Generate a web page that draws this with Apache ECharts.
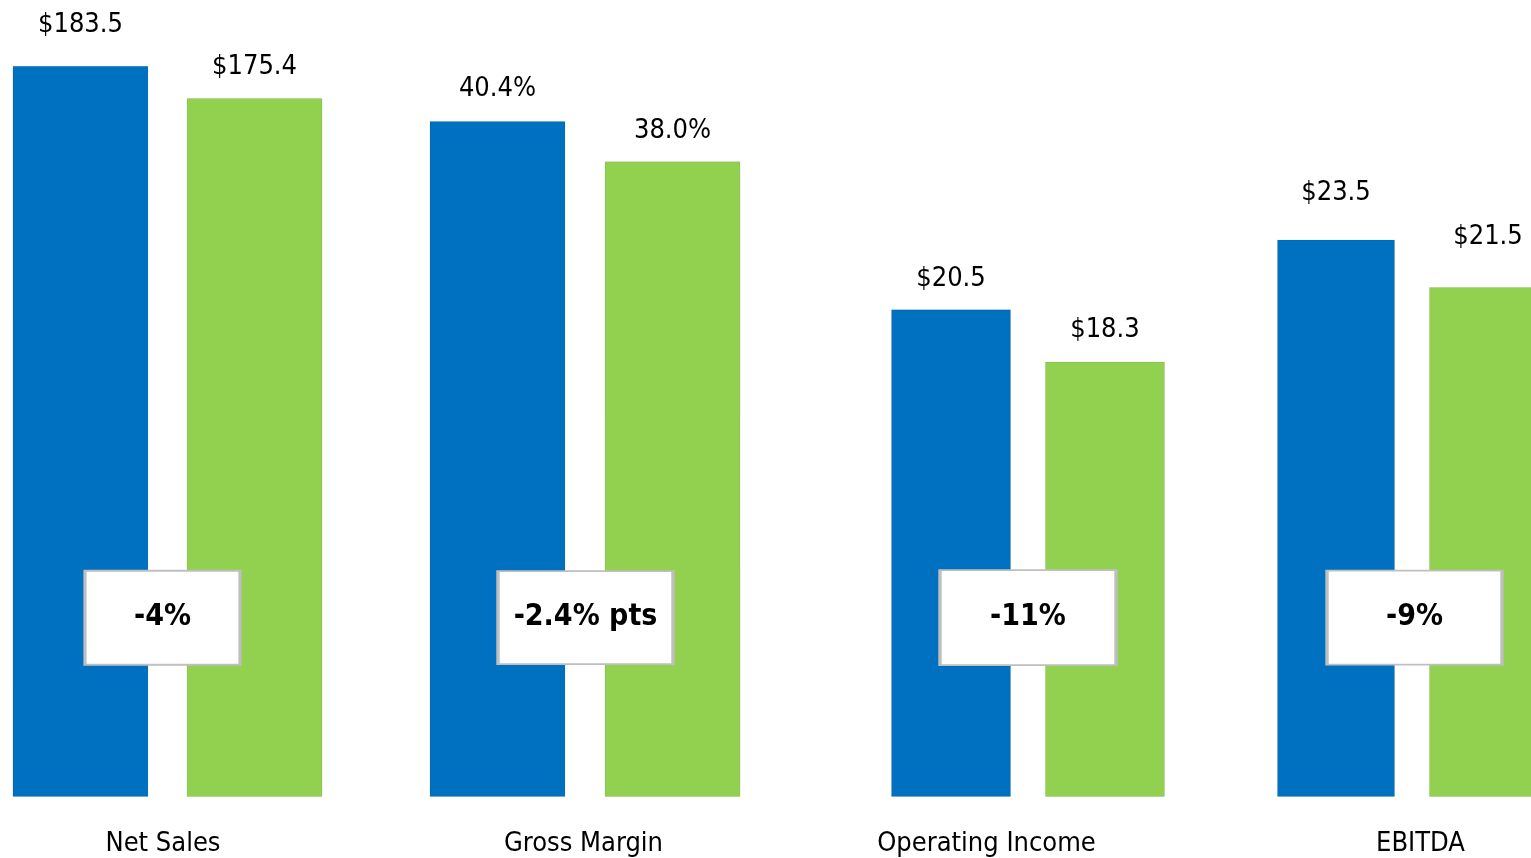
<!DOCTYPE html>
<html>
<head>
<meta charset="utf-8">
<script src="https://cdn.jsdelivr.net/npm/echarts@6/dist/echarts.min.js"></script>
<style>
html,body{margin:0;padding:0;background:#fff;}
#main{width:1531px;height:858px;}
</style>
</head>
<body>
<div id="main"></div>
<script>
// ---- data ----
const categories = ['Net Sales', 'Gross Margin', 'Operating Income', 'EBITDA'];
const priorValues = [183.5, 40.4, 20.5, 23.5];
const currentValues = [175.4, 38.0, 18.3, 21.5];
const valuePrefix = ['$', '', '$', '$'];
const valueSuffix = ['', '%', '', ''];
const changeLabels = ['-4%', '-2.4% pts', '-11%', '-9%'];

// ---- layout / style ----
const FONT = "'Liberation Sans Narrow', 'DejaVu Sans Condensed', 'Arial Narrow', sans-serif";
const BLUE = '#0070C0';
const GREEN = '#92D050';
const GW = 400;
const layout = [
  {center: 167.5, max: 200,   barWidth: 136, barGap: '28%',   lift: [27, 18], box: [155, 94], boxShift: -5,  catShift: -4.5},
  {center: 585,   max: 47.63, barWidth: 136, barGap: '28.7%', lift: [18, 17], box: [175, 93], boxShift: 0.5, catShift: -1.5},
  {center: 1028,  max: 33.5,  barWidth: 120, barGap: '28.3%', lift: [17, 18], box: [176, 95], boxShift: 0,   catShift: -41.5},
  {center: 1412,  max: 33.6,  barWidth: 118, barGap: '28.8%', lift: [33, 37], box: [175, 94], boxShift: 2.5, catShift: 8.5}
];

const grids = [], xAxes = [], yAxes = [], series = [];
categories.forEach((cat, i) => {
  const L = layout[i];
  grids.push({left: L.center - GW / 2, width: GW, top: 0, bottom: 61, containLabel: false, outerBoundsMode: 'none'});
  const pad = L.catShift < 0 ? [0, -2 * L.catShift, 0, 0] : [0, 0, 0, 2 * L.catShift];
  xAxes.push({
    type: 'category', gridIndex: i, data: [cat],
    axisLine: {show: false}, axisTick: {show: false}, splitLine: {show: false},
    axisLabel: {show: true, margin: 33, fontFamily: FONT, fontSize: 27, color: '#000', padding: pad}
  });
  yAxes.push({type: 'value', gridIndex: i, min: 0, max: L.max, show: false, splitLine: {show: false}});
  const fmt = v => valuePrefix[i] + v.toFixed(1) + valueSuffix[i];
  [[priorValues[i], BLUE, L.lift[0]], [currentValues[i], GREEN, L.lift[1]]].forEach(([v, col, lift], k) => {
    series.push({
      type: 'bar', name: k === 0 ? 'Prior' : 'Current',
      xAxisIndex: i, yAxisIndex: i,
      barWidth: L.barWidth, barGap: L.barGap,
      data: [v],
      itemStyle: {color: col, borderColor: 'rgba(0,0,0,0.08)', borderWidth: 1},
      label: {show: true, position: 'top', distance: lift, formatter: p => fmt(p.value),
        fontFamily: FONT, fontSize: 27, color: '#000'},
      animation: false
    });
  });
  series.push({
    type: 'scatter', xAxisIndex: i, yAxisIndex: i,
    data: [[0, L.max * 0.225]],
    symbol: 'rect', symbolSize: L.box, symbolOffset: [L.boxShift, 0],
    itemStyle: {color: '#fff', borderColor: '#BFBFBF', borderWidth: 2.5, opacity: 1},
    label: {show: true, position: 'inside', formatter: () => changeLabels[i],
      fontFamily: FONT, fontSize: 30, fontWeight: 'bold', color: '#000'},
    z: 5, animation: false, silent: true
  });
});

const chart = echarts.init(document.getElementById('main'), null, {renderer: 'canvas'});
chart.setOption({
  backgroundColor: '#fff',
  animation: false,
  grid: grids, xAxis: xAxes, yAxis: yAxes, series: series
});
</script>
</body>
</html>
